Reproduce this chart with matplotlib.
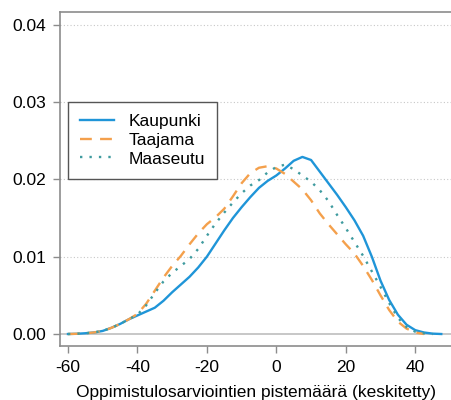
import numpy as np
import matplotlib.pyplot as plt

plt.rcParams['font.family'] = ['Liberation Sans', 'DejaVu Sans']
plt.rcParams['axes.unicode_minus'] = False

# kernel density estimates read at 2.5-point steps
x_kaupunki = np.arange(-60, 48, 2.5)
kaupunki = [0, 0.00003, 0.0001, 0.0002, 0.0004, 0.0008, 0.0013, 0.0019,
            0.0024, 0.0029, 0.0034, 0.0043, 0.0054, 0.0064, 0.0074, 0.0086,
            0.0100, 0.0117, 0.0134, 0.0150, 0.0164, 0.0177, 0.0189, 0.0198,
            0.0205, 0.0214, 0.0224, 0.0229, 0.0225, 0.0210, 0.0195, 0.0180,
            0.0164, 0.0147, 0.0127, 0.0100, 0.0069, 0.0044, 0.0025, 0.0012,
            0.0005, 0.0002, 0.00005, 0.0]

x_taajama = np.arange(-60, 43, 2.5)
taajama = [0, 0.00003, 0.0001, 0.0002, 0.0004, 0.0008, 0.0013, 0.0019,
           0.0026, 0.0039, 0.0056, 0.0073, 0.0088, 0.0101, 0.0116, 0.0130,
           0.0142, 0.0151, 0.0162, 0.0178, 0.0195, 0.0208, 0.0215, 0.0217,
           0.0214, 0.0207, 0.0197, 0.0187, 0.0173, 0.0156, 0.0142, 0.0129,
           0.0116, 0.0104, 0.0088, 0.0070, 0.0050, 0.0031, 0.0016, 0.0007,
           0.0002, 0.0]

x_maaseutu = np.arange(-60, 45.5, 2.5)
maaseutu = [0, 0.00003, 0.0001, 0.0002, 0.0004, 0.0008, 0.0013, 0.0019,
            0.0025, 0.0037, 0.0053, 0.0068, 0.0079, 0.0088, 0.0097, 0.0110,
            0.0127, 0.0143, 0.0157, 0.0170, 0.0182, 0.0192, 0.0199, 0.0209,
            0.0216, 0.0219, 0.0213, 0.0205, 0.0197, 0.0186, 0.0172, 0.0154,
            0.0137, 0.0119, 0.0101, 0.0081, 0.0061, 0.0040, 0.0021, 0.0009,
            0.0003, 0.0001, 0.0]

labels = ['Kaupunki', 'Taajama', 'Maaseutu']
xticks = [-60, -40, -20, 0, 20, 40]
yticks = [0.00, 0.01, 0.02, 0.03, 0.04]

fig = plt.figure(figsize=(4.51, 4.0), dpi=100)
ax = fig.add_axes([60/451, 1 - 346/400, 1 - 60/451, 334/400])

gray = '#8c8c8c'
for y in yticks[1:]:
    ax.axhline(y, color='#c8c8c8', lw=0.8, ls=(0, (1, 2)), zorder=0)
ax.axhline(0, color='#bdbdbd', lw=1.2, zorder=0)

ax.plot(x_kaupunki, kaupunki, color='#1f95d8', lw=1.7, label=labels[0])
ax.plot(x_taajama, taajama, color='#f4a04c', lw=1.7, ls=(0, (5, 3.5)), label=labels[1])
ax.plot(x_maaseutu, maaseutu, color='#3f9b9f', lw=1.7, ls=(0, (1, 3)), label=labels[2])

ax.set_xlim(-62.3, 50.3)
ax.set_ylim(-0.00155, 0.04164)
ax.set_xticks(xticks)
ax.set_yticks(yticks)
ax.set_yticklabels(['%.2f' % v for v in yticks])

ax.spines['right'].set_visible(False)
for side in ['left', 'top', 'bottom']:
    ax.spines[side].set_color(gray)
    ax.spines[side].set_linewidth(1.2)
ax.tick_params(axis='both', colors=gray, labelcolor='black', labelsize=12.5,
               width=1.0, length=5)
ax.tick_params(axis='y', pad=5)
ax.tick_params(axis='x', pad=5)

ax.set_xlabel('Oppimistulosarviointien pistemäärä (keskitetty)', fontsize=12.5,
              labelpad=7)

leg = ax.legend(loc='upper left', bbox_to_anchor=(68/451, 1 - 102/400),
                bbox_transform=fig.transFigure, borderaxespad=0,
                fontsize=12.5, fancybox=False, framealpha=1, edgecolor='#555555',
                handlelength=1.95, handletextpad=0.85, labelspacing=0.2,
                borderpad=0.7)
leg.get_frame().set_linewidth(1.0)

fig.savefig('out.png', dpi=100)
